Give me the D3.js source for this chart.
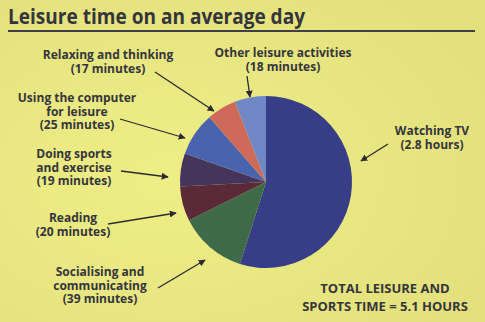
<!DOCTYPE html>
<html><head><meta charset="utf-8">
<script src="https://cdn.jsdelivr.net/npm/d3@7"></script>
<style>
html,body{margin:0;padding:0;background:#e8e67f;}
svg{display:block;}
text{font-family:"Open Sans",sans-serif;font-weight:700;fill:#35353c;}
</style></head>
<body>
<script>
const categories = ["Watching TV","Socialising and communicating","Reading","Doing sports and exercise","Using the computer for leisure","Relaxing and thinking","Other leisure activities"];
const minutes = [168, 39, 20, 19, 25, 17, 18];
const colors = ["#373d86","#3e6a4a","#5a2a39","#45355d","#4963ae","#cf6a5a","#7088c6"];
const labelLines = [
  ["Watching TV","(2.8 hours)"],
  ["Socialising and","communicating","(39 minutes)"],
  ["Reading","(20 minutes)"],
  ["Doing sports","and exercise","(19 minutes)"],
  ["Using the computer","for leisure","(25 minutes)"],
  ["Relaxing and thinking","(17 minutes)"],
  ["Other leisure activities","(18 minutes)"]
];
const title = "Leisure time on an average day";
const totalLines = ["TOTAL LEISURE AND","SPORTS TIME = 5.1 HOURS"];

// layout (annotation placement)
const W = 485, H = 322;
const cx = 266, cy = 182, R = 86;
const labelPos = [
  {x:432, y:135, ax:[388,144], at:[361,161]},
  {x:100, y:276, ax:[158,288], at:[205,260]},
  {x:73,  y:222, ax:[108,224], at:[176,213]},
  {x:74,  y:158, ax:[121,171], at:[168,177]},
  {x:77,  y:102, ax:[120,119], at:[185,138]},
  {x:108, y:59,  ax:[155,72],  at:[214,111]},
  {x:283, y:57,  ax:[247,76],  at:[250,97]}
];

const svg = d3.select("body").append("svg").attr("width",W).attr("height",H);
const defs = svg.append("defs");
const grad = defs.append("radialGradient").attr("id","bg").attr("cx","0.35").attr("cy","0.55").attr("r","0.8");
grad.append("stop").attr("offset","0").attr("stop-color","#eeee86");
grad.append("stop").attr("offset","1").attr("stop-color","#e2df7c");
svg.append("rect").attr("width",W).attr("height",H).attr("fill","url(#bg)");

defs.append("marker").attr("id","arr").attr("viewBox","0 0 10 10").attr("refX",9).attr("refY",5)
  .attr("markerWidth",7).attr("markerHeight",7).attr("orient","auto").attr("markerUnits","userSpaceOnUse")
  .append("path").attr("d","M0,0L10,5L0,10z").attr("fill","#2a2a30");

// title
svg.append("text").attr("x",8).attr("y",24).attr("font-size",21)
  .attr("textLength",297).attr("lengthAdjust","spacingAndGlyphs").text(title);
svg.append("line").attr("x1",8).attr("x2",475).attr("y1",31).attr("y2",31)
  .attr("stroke","#3f3f48").attr("stroke-width",2);

// pie
const data = categories.map((c,i)=>({cat:c, value:minutes[i], color:colors[i]}));
const pie = d3.pie().value(d=>d.value).sort(null).startAngle(0).endAngle(2*Math.PI);
const arc = d3.arc().innerRadius(0).outerRadius(R);
svg.append("g").attr("transform",`translate(${cx},${cy})`)
  .selectAll("path").data(pie(data)).join("path")
  .attr("d",arc).attr("fill",d=>d.data.color);

// labels
const lh = 13.5;
labelLines.forEach((lines,i)=>{
  const p = labelPos[i];
  const t = svg.append("text").attr("text-anchor","middle").attr("font-size",12);
  lines.forEach((l,j)=>t.append("tspan").attr("x",p.x).attr("y",p.y+j*lh).text(l));
  svg.append("line").attr("x1",p.ax[0]).attr("y1",p.ax[1]).attr("x2",p.at[0]).attr("y2",p.at[1])
    .attr("stroke","#2a2a30").attr("stroke-width",1.3).attr("marker-end","url(#arr)");
});

const tt = svg.append("text").attr("text-anchor","middle").attr("font-size",13);
totalLines.forEach((l,j)=>tt.append("tspan").attr("x",385).attr("y",293+j*18).text(l));
</script>
</body></html>
